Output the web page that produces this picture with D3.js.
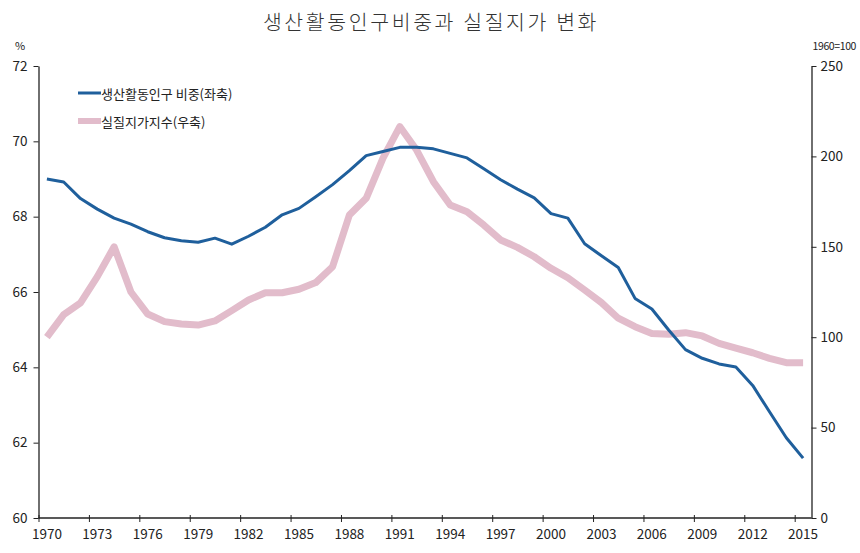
<!DOCTYPE html>
<html>
<head>
<meta charset="utf-8">
<script src="https://cdn.jsdelivr.net/npm/d3@7"></script>
<style>
  html, body { margin: 0; padding: 0; background: #fff; }
  svg { display: block; font-family: "Noto Sans CJK KR", "Noto Sans", sans-serif; }
</style>
</head>
<body>
<svg id="chart" width="860" height="553"></svg>
<script>
const years = d3.range(1970, 2016);
const workingAgeShare = [
  69.0, 68.92, 68.48, 68.2, 67.96, 67.8, 67.6, 67.44, 67.36, 67.32,
  67.43, 67.27, 67.48, 67.72, 68.05, 68.22, 68.53, 68.85, 69.22, 69.62,
  69.73, 69.84, 69.84, 69.8, 69.68, 69.56, 69.27, 68.98, 68.73, 68.5,
  68.08, 67.96, 67.28, 66.96, 66.65, 65.83, 65.55, 64.99, 64.47, 64.24,
  64.09, 64.01, 63.52, 62.82, 62.13, 61.59
];
const realLandPrice = [
  100, 112.5, 119, 133.5, 150, 125, 112.8, 108.6, 107.3, 106.7,
  109, 114.7, 120.6, 124.6, 124.6, 126.5, 130.2, 139, 167.6, 176.8,
  199, 216.5, 203.5, 186, 173.1, 169.4, 162, 153.8, 149.7, 144.5,
  138.1, 132.9, 126.1, 119.1, 110.5, 105.8, 102.1, 101.6, 102.5, 100.7,
  96.6, 93.9, 91.4, 88.3, 85.9, 85.9
];
const leftTicks = [60, 62, 64, 66, 68, 70, 72];
const rightTicks = [0, 50, 100, 150, 200, 250];
const xTickYears = d3.range(1970, 2016, 3);
const title = "생산활동인구비중과 실질지가 변화";
const seriesNames = ["생산활동인구 비중(좌축)", "실질지가지수(우축)"];
const leftUnit = "%";
const rightUnit = "1960=100";

const colors = { blue: "#1f5f9c", pink: "#e2bccb", axis: "#222", text: "#222" };
const m = { left: 38.5, right: 811.5, top: 66, bottom: 518 };

const svg = d3.select("#chart");

const x = d3.scaleBand().domain(years).range([m.left, m.right]).padding(0);
const yL = d3.scaleLinear().domain([60, 72]).range([m.bottom, m.top]);
const yR = d3.scaleLinear().domain([0, 250]).range([m.bottom, m.top]);
const cx = d => x(d) + x.bandwidth() / 2;

// title
svg.append("text")
  .attr("x", 431).attr("y", 30)
  .attr("text-anchor", "middle")
  .attr("font-size", 20.5).attr("letter-spacing", 2.6)
  .attr("font-weight", 300)
  .attr("fill", "#333")
  .text(title);

// unit labels
svg.append("text").attr("x", 20).attr("y", 50).attr("text-anchor", "middle")
  .attr("font-size", 11).attr("fill", colors.text).text(leftUnit);
svg.append("text").attr("x", 856).attr("y", 50).attr("text-anchor", "end")
  .attr("font-size", 10.5).attr("letter-spacing", -0.4).attr("fill", colors.text).text(rightUnit);

// left axis
const gL = svg.append("g").attr("transform", `translate(${m.left},0)`)
  .call(d3.axisLeft(yL).tickValues(leftTicks).tickSize(5).tickPadding(6).tickSizeOuter(0));
// right axis
const gR = svg.append("g").attr("transform", `translate(${m.right},0)`)
  .call(d3.axisRight(yR).tickValues(rightTicks).tickSize(5).tickPadding(4).tickSizeOuter(0));
// bottom axis: labels at band centres, ticks at band starts
const gB = svg.append("g").attr("transform", `translate(0,${m.bottom})`)
  .call(d3.axisBottom(x).tickValues(xTickYears).tickSize(0).tickPadding(11).tickSizeOuter(0));
gB.selectAll(".tick-mark").data(xTickYears).enter().append("line")
  .attr("class", "tick-mark")
  .attr("x1", d => x(d) + 0.5).attr("x2", d => x(d) + 0.5)
  .attr("y1", -3).attr("y2", 4)
  .attr("stroke", colors.axis);

[gL, gR, gB].forEach(g => {
  g.select(".domain").attr("stroke", colors.axis).attr("stroke-width", 1.3);
  g.selectAll(".tick line").attr("stroke", colors.axis);
  g.selectAll("text").attr("font-size", 13.5).attr("fill", colors.text)
    .attr("font-family", "\"Noto Sans CJK KR\", sans-serif");
});
// extend bottom axis to the right axis
gB.select(".domain").attr("d", `M${m.left},0H${m.right}`);

// lines
const lineR = d3.line().x((d, i) => cx(years[i])).y(d => yR(d));
const lineL = d3.line().x((d, i) => cx(years[i])).y(d => yL(d));

svg.append("path").datum(realLandPrice)
  .attr("d", lineR).attr("fill", "none")
  .attr("stroke", colors.pink).attr("stroke-width", 7)
  .attr("stroke-linejoin", "round");
svg.append("path").datum(workingAgeShare)
  .attr("d", lineL).attr("fill", "none")
  .attr("stroke", colors.blue).attr("stroke-width", 3)
  .attr("stroke-linejoin", "round");

// legend
const legend = svg.append("g");
const legendItems = [
  { name: seriesNames[0], color: colors.blue, w: 3, y: 93 },
  { name: seriesNames[1], color: colors.pink, w: 6, y: 121 }
];
legendItems.forEach(it => {
  legend.append("line").attr("x1", 78).attr("x2", 101)
    .attr("y1", it.y).attr("y2", it.y)
    .attr("stroke", it.color).attr("stroke-width", it.w);
  legend.append("text").attr("x", 101).attr("y", it.y)
    .attr("dominant-baseline", "central")
    .attr("font-size", 13).attr("fill", colors.text)
    .text(it.name);
});
</script>
</body>
</html>
